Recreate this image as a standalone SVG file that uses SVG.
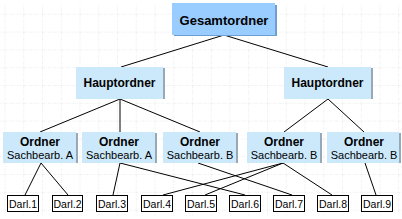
<svg xmlns="http://www.w3.org/2000/svg" width="402" height="219" viewBox="0 0 402 219">
  <defs>
    <pattern id="grid" x="4.5" y="-4" width="18.75" height="17.8" patternUnits="userSpaceOnUse">
      <path d="M0 0V17.8M0 0H18.75" fill="none" stroke="#e6e6e6" stroke-width="1" stroke-dasharray="3 1 1 1"/>
    </pattern>
  </defs>
  <style>
    .bg { fill: #ffffff; }
    .top { fill: #99ccff; }
    .topsh { fill: #6f9fd0; }
    .lb { fill: #cce9fb; }
    .lbsh { fill: #97a9b6; }
    .leaf { fill: #ffffff; stroke: #000000; stroke-width: 1; }
    .t { font-family: "Liberation Sans", Arial, sans-serif; fill: #000000; text-anchor: middle; }
    .b13 { font-size: 13px; font-weight: bold; }
    .b12 { font-size: 12px; font-weight: bold; }
    .r11 { font-size: 11px; }
    .r9 { font-size: 10.5px; }
    .con line { stroke: #000000; stroke-width: 1; }
  </style>
  <rect class="bg" x="0" y="0" width="402" height="219"/>
  <rect x="0" y="4" width="402" height="212" fill="url(#grid)"/>

  <g id="connectors" class="con">
    <line x1="224" y1="35" x2="121" y2="67"/>
    <line x1="224" y1="35" x2="328" y2="67"/>
    <line x1="120" y1="99" x2="40" y2="132"/>
    <line x1="120" y1="99" x2="120" y2="132"/>
    <line x1="120" y1="99" x2="200" y2="132"/>
    <line x1="328" y1="99" x2="284" y2="132"/>
    <line x1="328" y1="99" x2="364" y2="132"/>
    <line x1="41" y1="163" x2="25" y2="195"/>
    <line x1="41" y1="163" x2="68" y2="195"/>
    <line x1="120" y1="163" x2="113" y2="195"/>
    <line x1="120" y1="163" x2="245" y2="195"/>
    <line x1="198" y1="163" x2="292" y2="195"/>
    <line x1="283" y1="163" x2="163" y2="195"/>
    <line x1="283" y1="163" x2="205" y2="195"/>
    <line x1="283" y1="163" x2="332" y2="195"/>
    <line x1="365" y1="163" x2="376" y2="195"/>
  </g>

  <g id="gesamtordner">
    <rect class="topsh" x="174" y="5" width="103" height="31"/>
    <rect class="top" x="172" y="3" width="103" height="32"/>
    <text class="t b13" x="224" y="25">Gesamtordner</text>
  </g>

  <g id="hauptordner1">
    <rect class="lbsh" x="78" y="68" width="87" height="31"/>
    <rect class="lb" x="76" y="67" width="87" height="32"/>
    <text class="t b12" x="119.5" y="87">Hauptordner</text>
  </g>
  <g id="hauptordner2">
    <rect class="lbsh" x="286" y="68" width="87" height="31"/>
    <rect class="lb" x="284" y="67" width="87" height="32"/>
    <text class="t b12" x="327.5" y="87">Hauptordner</text>
  </g>

  <g id="ordner1">
    <rect class="lbsh" x="5" y="133" width="73" height="30"/>
    <rect class="lb" x="3" y="132" width="73" height="31"/>
    <text class="t b12" x="40" y="146">Ordner</text>
    <text class="t r11" x="40" y="159">Sachbearb. A</text>
  </g>
  <g id="ordner2">
    <rect class="lbsh" x="84" y="133" width="73" height="30"/>
    <rect class="lb" x="82" y="132" width="73" height="31"/>
    <text class="t b12" x="119" y="146">Ordner</text>
    <text class="t r11" x="119" y="159">Sachbearb. A</text>
  </g>
  <g id="ordner3">
    <rect class="lbsh" x="165" y="133" width="73" height="30"/>
    <rect class="lb" x="163" y="132" width="73" height="31"/>
    <text class="t b12" x="200" y="146">Ordner</text>
    <text class="t r11" x="200" y="159">Sachbearb. B</text>
  </g>
  <g id="ordner4">
    <rect class="lbsh" x="249" y="133" width="73" height="30"/>
    <rect class="lb" x="247" y="132" width="73" height="31"/>
    <text class="t b12" x="284" y="146">Ordner</text>
    <text class="t r11" x="284" y="159">Sachbearb. B</text>
  </g>
  <g id="ordner5">
    <rect class="lbsh" x="329" y="133" width="72" height="30"/>
    <rect class="lb" x="327" y="132" width="72" height="31"/>
    <text class="t b12" x="364" y="146">Ordner</text>
    <text class="t r11" x="364" y="159">Sachbearb. B</text>
  </g>

  <g id="darl1"><rect class="leaf" x="7.5" y="195.5" width="31" height="16"/><text class="t r9" x="23" y="207.5">Darl.1</text></g>
  <g id="darl2"><rect class="leaf" x="52.5" y="195.5" width="30" height="16"/><text class="t r9" x="67.5" y="207.5">Darl.2</text></g>
  <g id="darl3"><rect class="leaf" x="96.5" y="195.5" width="31" height="16"/><text class="t r9" x="112" y="207.5">Darl.3</text></g>
  <g id="darl4"><rect class="leaf" x="141.5" y="195.5" width="31" height="16"/><text class="t r9" x="157" y="207.5">Darl.4</text></g>
  <g id="darl5"><rect class="leaf" x="185.5" y="195.5" width="31" height="16"/><text class="t r9" x="201" y="207.5">Darl.5</text></g>
  <g id="darl6"><rect class="leaf" x="229.5" y="195.5" width="31" height="16"/><text class="t r9" x="245" y="207.5">Darl.6</text></g>
  <g id="darl7"><rect class="leaf" x="273.5" y="195.5" width="31" height="16"/><text class="t r9" x="289" y="207.5">Darl.7</text></g>
  <g id="darl8"><rect class="leaf" x="317.5" y="195.5" width="31" height="16"/><text class="t r9" x="333" y="207.5">Darl.8</text></g>
  <g id="darl9"><rect class="leaf" x="361.5" y="195.5" width="31" height="16"/><text class="t r9" x="377" y="207.5">Darl.9</text></g>
</svg>
